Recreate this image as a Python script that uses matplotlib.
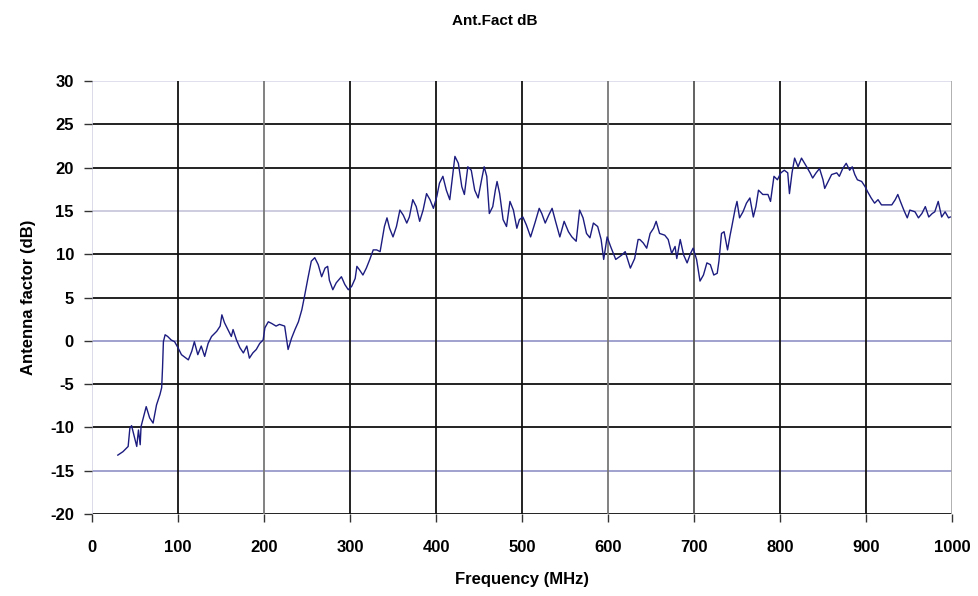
import matplotlib.pyplot as plt

plt.rcParams['font.family'] = ['Liberation Sans', 'DejaVu Sans']
plt.rcParams['axes.unicode_minus'] = False

# frequency (MHz) and antenna factor (dB)
freq = [30, 36, 42, 44, 46, 49, 52, 54, 56, 57, 63, 67, 71, 75, 79, 81, 82, 83,
        85, 88, 92, 96, 100, 104, 108, 112, 116, 119, 123, 127, 131, 135, 139,
        145, 149, 151, 154, 158, 162, 164, 168, 172, 176, 180, 183, 187, 191,
        195, 199, 201, 205, 209, 214, 218, 224, 228, 232, 236, 240, 244, 247,
        251, 255, 259, 263, 267, 271, 274, 276, 280, 284, 290, 294, 298, 302,
        306, 308, 311, 315, 319, 323, 327, 331, 335, 338, 340, 343, 346, 350,
        354, 358, 362, 366, 369, 373, 377, 381, 385, 389, 393, 397, 401, 404,
        408, 412, 416, 420, 422, 426, 430, 433, 437, 441, 445, 449, 453, 456,
        459, 462, 466, 469, 471, 474, 478, 482, 486, 490, 494, 497, 501, 505,
        510, 515, 520, 523, 527, 531, 535, 539, 544, 549, 554, 558, 563, 567,
        571, 575, 579, 583, 588, 592, 595, 599, 603, 609, 616, 620, 626, 631,
        635, 637, 641, 645, 649, 653, 656, 660, 666, 670, 674, 678, 680, 684,
        688, 692, 696, 699, 703, 707, 711, 715, 719, 723, 727, 729, 732, 735,
        739, 742, 744, 748, 750, 753, 757, 761, 765, 769, 772, 775, 780, 786,
        789, 793, 797, 801, 805, 809, 811, 814, 817, 821, 825, 831, 835, 838,
        842, 846, 850, 852, 856, 860, 866, 869, 873, 877, 881, 884, 887, 890,
        895, 899, 902, 906, 910, 914, 918, 924, 930, 934, 937, 940, 944, 948,
        951, 957, 961, 965, 969, 973, 977, 980, 984, 988, 992, 996, 998]
af_db = [-13.2, -12.8, -12.2, -10.1, -9.8, -11.0, -12.2, -10.3, -12.0, -9.9,
         -7.6, -8.9, -9.5, -7.4, -6.2, -5.4, -3.1, -0.1, 0.7, 0.5, 0.1, -0.1,
         -0.8, -1.6, -1.9, -2.2, -1.2, -0.1, -1.6, -0.6, -1.8, -0.3, 0.5, 1.1,
         1.7, 3.0, 2.1, 1.3, 0.5, 1.3, 0.1, -0.8, -1.4, -0.6, -2.0, -1.4, -1.0,
         -0.3, 0.1, 1.5, 2.2, 2.0, 1.7, 1.9, 1.7, -1.0, 0.3, 1.3, 2.2, 3.6, 5.1,
         7.2, 9.2, 9.6, 8.8, 7.4, 8.4, 8.6, 7.0, 5.9, 6.7, 7.4, 6.5, 5.9, 6.3,
         7.2, 8.6, 8.2, 7.6, 8.4, 9.4, 10.5, 10.5, 10.3, 12.0, 13.2, 14.2, 13.0,
         12.0, 13.2, 15.1, 14.5, 13.6, 14.3, 16.3, 15.5, 13.8, 15.1, 17.0, 16.3,
         15.3, 16.7, 18.2, 19.0, 17.4, 16.3, 19.7, 21.3, 20.5, 17.8, 16.9, 20.1,
         19.7, 17.4, 16.5, 18.6, 20.1, 19.0, 14.7, 15.5, 17.4, 18.4, 17.0, 14.0,
         13.2, 16.1, 15.1, 13.0, 14.0, 14.3, 13.4, 12.0, 13.6, 15.3, 14.7, 13.6,
         14.5, 15.3, 13.8, 12.0, 13.8, 12.6, 12.0, 11.5, 15.1, 14.2, 12.4, 11.9,
         13.6, 13.2, 11.7, 9.4, 12.0, 10.9, 9.4, 9.9, 10.3, 8.4, 9.5, 11.7,
         11.7, 11.3, 10.7, 12.4, 13.0, 13.8, 12.4, 12.2, 11.7, 10.1, 10.9, 9.5,
         11.7, 9.9, 9.0, 10.1, 10.7, 9.4, 6.9, 7.6, 9.0, 8.8, 7.6, 7.8, 9.2,
         12.4, 12.6, 10.5, 12.2, 13.2, 15.3, 16.1, 14.2, 14.9, 15.9, 16.5, 14.3,
         15.5, 17.4, 16.9, 16.9, 16.1, 19.0, 18.6, 19.4, 19.7, 19.4, 17.0, 19.4,
         21.1, 20.1, 21.1, 20.1, 19.4, 18.8, 19.4, 19.9, 18.6, 17.6, 18.4, 19.2,
         19.4, 19.0, 19.9, 20.5, 19.7, 20.1, 19.2, 18.6, 18.4, 17.8, 17.2, 16.5,
         15.9, 16.3, 15.7, 15.7, 15.7, 16.3, 16.9, 16.1, 15.1, 14.2, 15.1, 14.9,
         14.2, 14.7, 15.5, 14.3, 14.7, 14.9, 16.1, 14.3, 14.9, 14.2, 14.3]

x_ticks = list(range(0, 1001, 100))
y_ticks = list(range(-20, 31, 5))

# grid line shades as they appear in the scanned chart
x_grid_col = {0: '#d8d8e8', 100: '#111111', 200: '#777777', 300: '#111111',
              400: '#111111', 500: '#111111', 600: '#777777', 700: '#555555',
              800: '#111111', 900: '#111111', 1000: '#aaaaaa'}
y_grid_col = {30: '#dcdcec', 25: '#111111', 20: '#111111', 15: '#c8c8dc',
              10: '#111111', 5: '#111111', 0: '#9a9acc', -5: '#111111',
              -10: '#111111', -15: '#9a9acc', -20: '#111111'}

fig = plt.figure(figsize=(9.79, 5.96), dpi=100)
ax = fig.add_axes([0.094, 0.1376, 0.8784, 0.7264])

for v in y_ticks:
    ax.axhline(v, color=y_grid_col[v], lw=1.3, zorder=1)
for f in x_ticks:
    ax.axvline(f, color=x_grid_col[f], lw=1.3, zorder=1)

ax.plot(freq, af_db, color='#1c1c80', lw=1.0, zorder=3)

ax.set_xlim(0, 1000)
ax.set_ylim(-20, 30)
ax.set_xticks(x_ticks)
ax.set_yticks(y_ticks)
for s in ax.spines.values():
    s.set_visible(False)
ax.tick_params(length=6, width=1.0, color='#333333', labelsize=12)
ax.tick_params(axis='x', pad=13)
ax.tick_params(axis='y', pad=7)
for lab in ax.get_xticklabels() + ax.get_yticklabels():
    lab.set_fontweight('bold')

ax.set_xlabel('Frequency (MHz)', fontsize=12, fontweight='bold', labelpad=12)
ax.set_ylabel('Antenna factor (dB)', fontsize=12, fontweight='bold', labelpad=10)
fig.text(0.505, 0.965, 'Ant.Fact dB', ha='center', va='center',
         fontsize=11, fontweight='bold')

fig.savefig('out.png', dpi=100)
